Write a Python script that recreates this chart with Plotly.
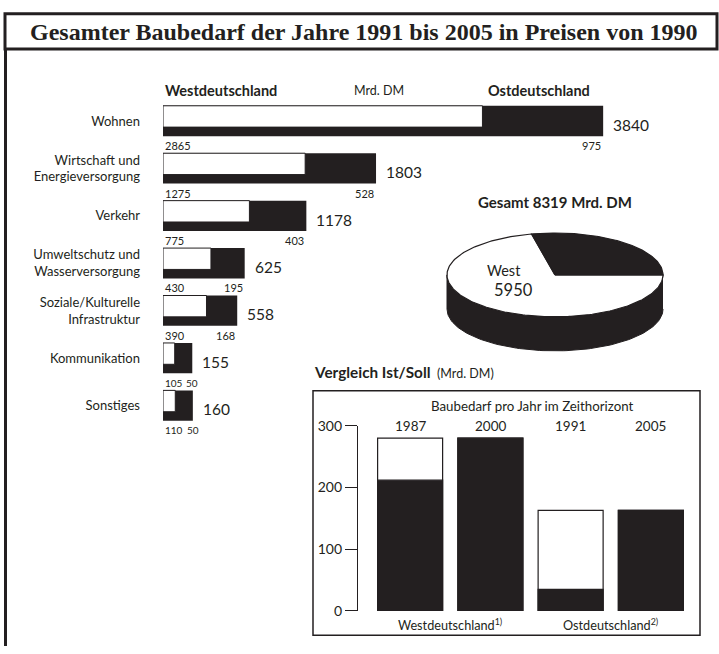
import numpy as np
import plotly.graph_objects as go

W, H = 719, 654
def X(px): return px / W
def Y(py): return 1 - py / H

# ---------------- data ----------------
categories = ["Wohnen", "Wirtschaft und<br>Energieversorgung", "Verkehr",
              "Umweltschutz und<br>Wasserversorgung", "Soziale/Kulturelle<br>Infrastruktur",
              "Kommunikation", "Sonstiges"]
west = [2865, 1275, 775, 430, 390, 105, 110]
east = [975, 528, 403, 195, 168, 50, 50]
total = [w + e for w, e in zip(west, east)]
west_sum = sum(west)
east_sum = sum(east)
grand_total = west_sum + east_sum

cmp_years = ["1987", "2000", "1991", "2005"]
cmp_ist = [212, 280, 35, 163]      # black part
cmp_soll = [280, 280, 163, 163]    # full bar height
cmp_ticks = [0, 100, 200, 300]

FONT = "Lato, 'DejaVu Sans', sans-serif"
INK = "#231f20"

fig = go.Figure()

# ---------------- horizontal 3D-like bars ----------------
x_max = 4000
bar_px = 446
scale = bar_px / x_max
depth = 12 / scale  # extrusion depth in data units
ypos = list(range(len(categories)))
row_px = 48.7
y_lo, y_hi = -0.5, 6.9
top_px = 90.6
bot_px = top_px + (y_hi - y_lo) * row_px

fig.add_trace(go.Bar(orientation="h", y=ypos, x=[t + depth for t in total], base=0,
                     offset=-0.32, width=0.64, marker=dict(color=INK, line=dict(width=0)),
                     xaxis="x", yaxis="y", hoverinfo="skip", showlegend=False))
fig.add_trace(go.Bar(orientation="h", y=ypos, x=west, base=0,
                     offset=-0.32, width=0.45, marker=dict(color="white", line=dict(color=INK, width=1)),
                     xaxis="x", yaxis="y", hoverinfo="skip", showlegend=False))

ann = []
for i in ypos:
    small = total[i] < 300
    ann.append(dict(x=0, y=i + 0.52, xref="x", yref="y", text=str(west[i]), showarrow=False,
                    xanchor="left", yanchor="middle",
                    font=dict(size=10 if small else 11, color=INK)))
    ann.append(dict(x=total[i] + depth, y=i + 0.52, xref="x", yref="y", text=str(east[i]), showarrow=False,
                    xanchor="right", yanchor="middle", xshift=8 if small else 0,
                    font=dict(size=10 if small else 11, color=INK)))
    ann.append(dict(x=total[i] + depth, y=i + 0.08, xref="x", yref="y", text=str(total[i]), showarrow=False,
                    xanchor="left", yanchor="middle", xshift=8, font=dict(size=15.5, color=INK)))

ann.append(dict(x=X(163), y=Y(84), xref="paper", yref="paper", text="<b>Westdeutschland</b>",
                showarrow=False, xanchor="left", yanchor="middle", font=dict(size=14.5, color=INK)))
ann.append(dict(x=X(379), y=Y(84), xref="paper", yref="paper", text="Mrd. DM",
                showarrow=False, xanchor="center", yanchor="middle", font=dict(size=12.5, color=INK)))
ann.append(dict(x=X(486), y=Y(84), xref="paper", yref="paper", text="<b>Ostdeutschland</b>",
                showarrow=False, xanchor="left", yanchor="middle", font=dict(size=14.5, color=INK)))

# ---------------- 3D pie ----------------
cx, cy, a, b, d = 555, 273, 108, 43, 35
th = np.linspace(0, np.pi, 100)
wall_x = np.concatenate([cx + a * np.cos(th), (cx + a * np.cos(th))[::-1]])
wall_y = np.concatenate([cy + b * np.sin(th), (cy + d + b * np.sin(th))[::-1]])
fig.add_trace(go.Scatter(x=wall_x, y=wall_y, fill="toself", fillcolor=INK, mode="lines",
                         line=dict(color=INK, width=1), xaxis="x3", yaxis="y3",
                         hoverinfo="skip", showlegend=False))
east_ang = east_sum / grand_total * 2 * np.pi
tw = np.linspace(-east_ang, -2 * np.pi, 200)
fig.add_trace(go.Scatter(x=np.concatenate([[cx], cx + a * np.cos(tw), [cx]]),
                         y=np.concatenate([[cy], cy + b * np.sin(tw), [cy]]),
                         fill="toself", fillcolor="white", mode="lines",
                         line=dict(color=INK, width=1.2), xaxis="x3", yaxis="y3",
                         hoverinfo="skip", showlegend=False))
te = np.linspace(0, -east_ang, 100)
fig.add_trace(go.Scatter(x=np.concatenate([[cx], cx + a * np.cos(te), [cx]]),
                         y=np.concatenate([[cy], cy + b * np.sin(te), [cy]]),
                         fill="toself", fillcolor=INK, mode="lines",
                         line=dict(color=INK, width=1.2), xaxis="x3", yaxis="y3",
                         hoverinfo="skip", showlegend=False))

ann.append(dict(x=X(555), y=Y(198), xref="paper", yref="paper",
                text=f"<b>Gesamt {grand_total} Mrd. DM</b>", showarrow=False,
                xanchor="center", yanchor="middle", font=dict(size=15, color=INK)))
ann.append(dict(x=485, y=268, xref="x3", yref="y3", text="West", showarrow=False,
                xanchor="left", yanchor="middle", font=dict(size=14.5, color=INK)))
ann.append(dict(x=492, y=289, xref="x3", yref="y3", text=str(west_sum), showarrow=False,
                xanchor="left", yanchor="middle", font=dict(size=16.5, color=INK)))

# ---------------- comparison bars ----------------
fig.add_trace(go.Bar(x=cmp_years, y=cmp_soll, marker=dict(color="white", line=dict(color=INK, width=1.2)),
                     xaxis="x4", yaxis="y4", hoverinfo="skip", showlegend=False))
fig.add_trace(go.Bar(x=cmp_years, y=cmp_ist, marker=dict(color=INK, line=dict(color=INK, width=1.2)),
                     xaxis="x4", yaxis="y4", hoverinfo="skip", showlegend=False))
for i, yr in enumerate(cmp_years):
    ann.append(dict(x=i, y=300, xref="x4", yref="y4", text=yr, showarrow=False,
                    xanchor="center", yanchor="middle", font=dict(size=13.5, color=INK)))
ann.append(dict(x=X(532), y=Y(408), xref="paper", yref="paper",
                text="Baubedarf pro Jahr im Zeithorizont", showarrow=False,
                xanchor="center", yanchor="middle", font=dict(size=13.3, color=INK)))
ann.append(dict(x=0.5, y=Y(632), xref="x4", yref="paper", text="Westdeutschland<sup>1)</sup>",
                showarrow=False, xanchor="center", yanchor="middle", font=dict(size=12.7, color=INK)))
ann.append(dict(x=2.5, y=Y(632), xref="x4", yref="paper", text="Ostdeutschland<sup>2)</sup>",
                showarrow=False, xanchor="center", yanchor="middle", font=dict(size=12.7, color=INK)))
ann.append(dict(x=X(312), y=Y(373), xref="paper", yref="paper", text="<b>Vergleich Ist/Soll</b>",
                showarrow=False, xanchor="left", yanchor="middle", font=dict(size=15.3, color=INK)))
ann.append(dict(x=X(435), y=Y(374), xref="paper", yref="paper", text="(Mrd. DM)",
                showarrow=False, xanchor="left", yanchor="middle", font=dict(size=12.5, color=INK)))

ann.append(dict(x=X(364), y=Y(24), xref="paper", yref="paper",
                text="<b>Gesamter Baubedarf der Jahre 1991 bis 2005 in Preisen von 1990</b>",
                showarrow=False, xanchor="center", yanchor="middle",
                font=dict(family="'Liberation Serif', 'Times New Roman', serif", size=24, color=INK)))

shapes = [
    dict(type="rect", xref="paper", yref="paper", x0=X(5), x1=X(717), y0=Y(41), y1=Y(5),
         line=dict(color=INK, width=3), fillcolor="rgba(0,0,0,0)"),
    dict(type="line", xref="paper", yref="paper", x0=X(5.5), x1=X(5.5), y0=Y(41), y1=0,
         line=dict(color=INK, width=3)),
    dict(type="rect", xref="paper", yref="paper", x0=X(313), x1=X(700), y0=Y(643), y1=Y(392),
         line=dict(color=INK, width=1.5), fillcolor="rgba(0,0,0,0)"),
]

hidden = dict(visible=False, showgrid=False, zeroline=False)
fig.update_layout(
    width=W, height=H, autosize=False,
    margin=dict(l=0, r=0, t=0, b=0),
    paper_bgcolor="white", plot_bgcolor="rgba(0,0,0,0)",
    font=dict(family=FONT, color=INK),
    barmode="overlay",
    xaxis=dict(domain=[X(163), X(163 + bar_px)], range=[0, x_max], anchor="y", **hidden),
    yaxis=dict(domain=[Y(bot_px), Y(top_px)], range=[y_hi, y_lo], anchor="x",
               tickvals=ypos, ticktext=categories, showgrid=False, zeroline=False,
               showline=False, ticks="", ticklabelstandoff=22,
               tickfont=dict(size=13, color=INK, family=FONT)),
    xaxis3=dict(domain=[X(430), X(680)], range=[430, 680], anchor="y3", **hidden),
    yaxis3=dict(domain=[Y(360), Y(220)], range=[360, 220], anchor="x3", **hidden),
    xaxis4=dict(domain=[X(370), X(691)], range=[-0.5, 3.5], anchor="y4", type="category",
                showgrid=False, zeroline=False, showline=False, showticklabels=False, ticks=""),
    yaxis4=dict(domain=[Y(618), Y(428)], range=[0, 300], anchor="free", position=X(357),
                tickvals=cmp_ticks, showgrid=False, zeroline=False, showline=True,
                linecolor=INK, linewidth=1.3, ticks="outside", ticklen=12, tickwidth=1.3,
                tickcolor=INK, tickfont=dict(size=14, color=INK)),
    bargap=0.19,
    annotations=ann,
    shapes=shapes,
)

fig.write_html("out.html", config={"displayModeBar": False},
               post_script="document.body.style.margin='0';document.body.style.padding='0';")
